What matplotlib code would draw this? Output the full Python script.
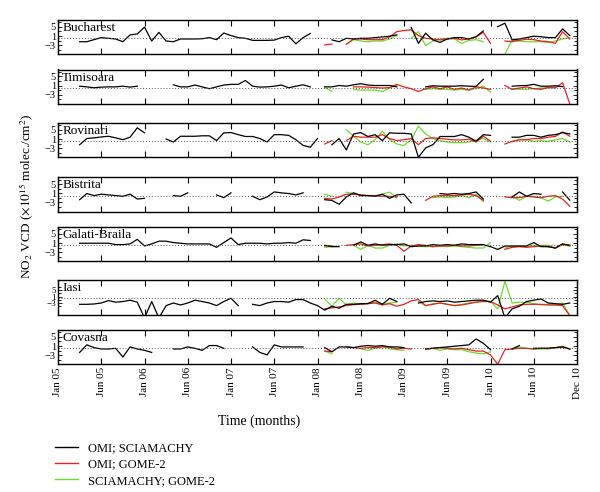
import numpy as np
import matplotlib
matplotlib.use("Agg")
import matplotlib.pyplot as plt
from matplotlib.lines import Line2D

plt.rcParams['font.family'] = ['Liberation Serif', 'DejaVu Serif']
plt.rcParams['mathtext.fontset'] = 'stix'

N = None
months = np.arange(72)
tick_labels = ['Jan 05', 'Jun 05', 'Jan 06', 'Jun 06', 'Jan 07', 'Jun 07', 'Jan 08',
               'Jun 08', 'Jan 09', 'Jun 09', 'Jan 10', 'Jun 10', 'Dec 10']
stations = ['Bucharest', 'Timisoara', 'Rovinari', 'Bistrita', 'Galati-Braila', 'Iasi', 'Covasna']
series_names = ['OMI; SCIAMACHY', 'OMI; GOME-2', 'SCIAMACHY; GOME-2']

# monthly differences, Jan 05 .. Dec 10 (None = no data)
buc_omi_scia = [N, N, N, -1.5, -1.5, -0.6, 0.3, 0, -0.3, -1.5, 1.5, 1.9,
                4.9, -1.2, 2.6, -1.2, -1.5, -0.3, -0.3, -0.3, -0.2, 0.3, -0.6, 2.3,
                1.2, 0.3, 0, -0.9, -0.9, -0.9, -0.8, 0.3, 0.9, -2.4, 0.3, 2.1,
                N, N, -0.7, -1.5, 0, -0.3, 0, 0, 0.3, 0.6, 0.9, 1.5,
                N, 4.7, -2.2, 2.2, -0.7, -1.8, -0.3, 0.3, 0.3, -0.3, 0.7, 3.2,
                N, 5.1, 6.6, -0.7, -0.3, 0.3, 0.9, 0.7, 0.3, 0.3, 4.1, 1.2]
buc_omi_gome = [N] * 36 + [N, -2.9, -2.5, N, -2.6, -0.3, -0.3, -0.6, -0.6, -0.6, 0.6, 2.9,
                           3.4, 3.7, 1.2, 0, -0.3, -0.7, -0.3, 0, -0.7, -0.3, 0.6, 2.6,
                           -2.2, N, -1.2, -1.5, -0.9, -0.4, -0.6, -1.2, -1.5, -2.2, 2.9, -0.3]
buc_scia_gome = [N] * 36 + [N, N, N, N, -2.6, -0.6, -1.2, -1.5, -1.2, -1.2, -0.3, 1.2,
                            N, 0, 2.9, -3.2, -1.2, -0.3, 0, -0.3, -2.2, -0.9, -0.6, -1.5,
                            N, N, -7, -0.7, -1.2, -1.5, -1.5, -1.5, -1.8, -1.2, -0.3, 0.3]

tim_omi_scia = [N, N, N, 0.7, 0.4, 0, 0.3, 0.4, 0.4, 0.7, 0.3, 0.7,
                N, N, N, N, 1.3, 0.4, 0.4, 1.2, 0.4, -0.4, 0.4, 1.2,
                1.5, 1.5, 3.2, 0.7, 0.3, 0.4, 0.7, 1.2, 0, 0.7, 1.3, 0.4,
                N, 0.4, 0.4, 1.0, 0.7, 1.3, 1.8, 1.2, 1.0, 1.0, 1.0, 0.4,
                N, N, N, 0.4, 0.9, 0.7, 0.7, 0.7, 0.9, 0.7, 0.6, 3.7,
                N, N, N, 0.7, 0.9, 1.0, 1.5, 0.7, 0.7, 0.9, 0.5, N]
tim_omi_gome = [N] * 36 + [N, N, N, N, N, 0.4, 0.4, 0.3, 0.1, -0.1, 0.1, 1.5,
                           0.4, -0.4, -1.6, -0.4, 0.4, -0.4, 0.4, -0.7, -0.1, -1.0, 0.4, -0.1,
                           -0.7, N, 1.0, -0.7, -0.1, 0.4, -0.4, -0.7, 0.1, 0, 2.2, -7]
tim_scia_gome = [N] * 36 + [N, 0.1, -1.5, N, N, -0.7, -1.0, -1.0, -1.0, -1.6, -0.1, 1.0,
                            N, N, N, -0.7, -0.4, -0.7, -0.7, -1.0, -0.7, -1.0, -0.4, 0.7,
                            -1.9, N, N, -0.4, -0.7, -0.7, -0.4, -0.1, 0.1, 0.4, N, N]

rov_omi_scia = [N, N, N, -1.5, 1.2, 1.5, 1.9, 2.2, 1.5, 0.7, 1.8, 5.9,
                3.7, N, N, 1.0, -0.3, 2.2, 2.2, 2.2, 2.4, 2.4, 0.3, 3.7,
                3.8, 2.9, 2.1, 2.1, 1.2, -0.3, 2.9, 2.9, 2.6, 0.7, -1.8, -2.6,
                1.2, N, -1.5, 1.2, -3.8, 3.2, 3.8, 2.1, 2.9, 0.3, 3.7, 3.5,
                3.5, 3.2, -7, -2.9, -1.5, 2.1, 2.1, 2.1, 2.9, 1.8, 0, 2.9,
                2.6, N, N, 1.8, 1.8, 2.6, 2.6, 1.8, 2.6, 2.9, 3.8, 3.2]
rov_omi_gome = [N] * 36 + [N, -1.2, 0.3, N, 0.3, 2.2, 1.8, 1.8, 1.8, 2.9, 1.2, 0.3,
                           0.7, 1.2, -1.5, 1.2, 1.5, 1.2, 0.9, 0.6, 0.6, 0.9, -0.3, 2.2,
                           0, N, -1.2, 0, 0.6, 0.7, 1.2, 1.2, 1.8, 2.1, 4.1, 2.2]
rov_scia_gome = [N] * 36 + [N, N, N, N, 5.1, 2.2, -0.3, -1.5, 0.7, 4.4, 0.7, -1.2,
                            -1.8, 0.7, 6.6, 3.2, 1.2, 0.3, -0.3, -0.6, -0.6, -0.3, 0.6, 1.2,
                            -0.3, N, N, -0.3, 0.9, 0.6, 0, 0.3, 0, 0.6, 1.2, -0.3]

bis_omi_scia = [N, N, N, -1.8, 0.9, 0, 0.6, 0.3, 0, -0.3, 0.6, -1.5,
                -1.2, N, N, N, 0, -0.3, 1.2, N, N, N, 0.3, -0.9,
                1.2, N, N, -0.3, -1.8, -0.6, 1.6, 1.2, 0.9, 0.3, 1.2, N,
                N, -1.8, -2.1, -3.8, -0.6, 1.2, 0, 0, -0.3, 0.6, -1.2, 0.3,
                0.6, -3.2, N, N, N, 0.9, 0.6, 0.9, 0.6, 0.9, 1.6, -1.5,
                N, N, N, -0.6, 1.6, -0.3, 0.9, 0.6, N, N, 1.6, -2.0]
bis_omi_gome = [N] * 36 + [N, -1.2, -1.5, -0.6, 0.6, 0.6, 0.3, 0, 0, -0.3, -0.3, -0.6,
                           N, N, N, -2.1, -0.3, 0, 0, 0, 0.3, 0.6, 0, -2.1,
                           N, N, -0.6, -0.9, -0.9, -0.3, -0.6, -0.9, -0.3, 0, -1.5, -4.7]
bis_scia_gome = [N] * 36 + [N, 0.6, -0.3, N, 1.5, 0.9, 0.3, 0, 0, 0.6, 1.5, -0.9,
                            N, N, N, N, -0.9, -0.6, -0.9, -0.6, 0, -0.9, 0.6, -2.6,
                            N, N, N, -0.3, -2.1, -0.3, -0.3, -0.9, -2.4, -0.6, -0.3, N]

gal_omi_scia = [N, N, N, 0.9, 0.9, 0.9, 0.9, 0.9, 0.3, 0.3, 0.6, 2.6,
                -0.3, 0.6, 1.8, 1.8, 1.2, 0.9, 0.6, 0.6, 0.6, 0.6, -0.9, 1.2,
                3.2, 0.3, 0.9, 0.9, 0.9, 0.6, 0.9, 0.9, 1.2, 0.9, 2.4, 2.1,
                N, 0, -0.6, -0.6, N, 0, 1.5, 0, 0.6, 0, 0.3, 0.3,
                0.6, -0.6, -0.3, -0.3, 0.3, 0, 0.3, 0, 0.6, 0.3, 0.3, 0.3,
                -0.6, -1.8, -0.3, -0.3, -0.3, -0.3, 1.2, -0.6, -0.6, -1.2, 0.6, 0]
gal_omi_gome = [N] * 36 + [N, -0.3, -0.3, N, 0, 0.3, 0.6, -0.3, 0, 0.3, 0.6, 0,
                           -2.6, -0.3, 0.3, 0, -0.6, -0.3, -0.3, 0, -0.3, -0.3, 0, 0.3,
                           N, N, -1.8, -0.9, -0.6, -0.9, -0.6, -0.3, -0.6, -1.2, 0.3, 0]
gal_scia_gome = [N] * 36 + [N, -0.9, -0.6, N, N, 0, -1.8, 0, -1.2, -1.2, 0, 0.6,
                            -0.3, 0, -0.3, -0.6, -0.6, -0.3, -0.6, -0.3, -0.6, -0.9, -1.2, -1.2,
                            1.2, N, -1.2, -0.3, -0.3, -0.6, 0, 0, 0, -1.2, 0.6, -0.6]

ias_omi_scia = [N, N, N, -3.7, -3.7, -3.5, -2.9, -1.4, -2.4, -2.0, -1.2, -2.4,
                -12, -2.0, -12, -4.5, -2.9, -4.1, -2.9, -1.2, -2.0, -2.9, -4.5, -2.0,
                0, -4.5, N, -3.7, -4.5, -2.9, -2.0, -2.0, -2.4, -0.8, -0.8, -2.9,
                -4.5, -7.3, -4.9, -6.1, -3.7, -3.7, -3.3, -3.3, -1.2, -3.7, 0, -2.0,
                N, N, -2.9, -2.0, -1.6, -2.0, -1.6, -2.4, -2.0, -1.6, -1.2, -1.2,
                -2.4, 1.6, -12, -6.5, -4.9, -2.0, -1.2, -0.4, -2.9, -3.3, -3.7, -2.9]
ias_omi_gome = [N] * 36 + [N, -6.5, -5.9, -5.3, -4.5, -3.9, -3.7, -3.3, -2.9, -4.1, -3.3, -4.9,
                           -3.7, -1.6, -0.8, -4.5, -3.7, -2.9, -3.7, -4.5, -4.1, -3.3, -2.4, -2.0,
                           -2.0, -4.1, -6.5, -5.3, -4.1, -3.7, -3.7, -3.7, -4.1, -4.1, -4.5, -10.6]
ias_scia_gome = [N] * 36 + [N, -0.4, -4.9, 0, -4.1, -2.9, -3.7, -2.9, -2.4, -3.7, -2.9, -2.4,
                            N, N, -2.0, -4.5, -3.3, -2.9, -3.7, -4.5, -3.7, -2.9, -2.4, -1.2,
                            -2.0, -6.5, 10.4, -2.9, -2.4, -2.4, -3.3, -4.1, -3.7, -4.1, -2.9, -10.6]

cov_omi_scia = [N, N, N, -1.8, 1.5, 0.3, -0.3, -0.3, 0, -3.8, 0.6, -0.3,
                -0.9, -1.8, N, N, -0.3, -0.3, 0.6, 0, -0.9, 1.2, 1.2, 0,
                N, N, N, 0.6, -1.8, -2.9, 1.5, 0.6, 0.6, 0.6, 0.6, N,
                N, 0.3, -1.5, 0.6, 0.6, 0.3, 0.9, 1.2, 0.9, 1.2, 0.6, 0.6,
                0.3, N, N, -0.3, 0, 0.3, 0.6, 0.9, 1.2, 1.5, 4.1, 2.2,
                -0.6, N, N, -0.3, 1.2, N, 0, 0, 0, 0.3, 0.6, -0.3]
cov_omi_gome = [N] * 36 + [N, -1.2, -1.5, N, 0.6, 0.3, 0, 0.3, 0.3, 0.6, 0.6, -0.3,
                           0, -0.3, N, -0.3, 0, 0.3, 0, -0.3, 0, -0.6, -1.2, -1.2,
                           -2.9, -7, -0.6, -0.3, 0, 0, -0.3, 0, 0, 0.3, 0.6, -0.3]
cov_scia_gome = [N] * 36 + [N, -1.2, -2.4, N, N, N, -0.3, -0.9, 0, 0.9, -0.3, -0.6,
                            -0.9, N, N, -0.3, 0, -0.9, -0.3, -0.6, -0.6, -1.5, -2.1, -2.4,
                            -1.5, N, N, -0.3, 0.6, 0, -0.3, -0.3, -0.3, 0.3, 0.9, -0.3]

panel_data = [
    (buc_omi_scia, buc_omi_gome, buc_scia_gome),
    (tim_omi_scia, tim_omi_gome, tim_scia_gome),
    (rov_omi_scia, rov_omi_gome, rov_scia_gome),
    (bis_omi_scia, bis_omi_gome, bis_scia_gome),
    (gal_omi_scia, gal_omi_gome, gal_scia_gome),
    (ias_omi_scia, ias_omi_gome, ias_scia_gome),
    (cov_omi_scia, cov_omi_gome, cov_scia_gome),
]
colors = ['black', '#e82020', '#6fdc2a']

# panel tops in pixels (figure is 600 x 492)
W, H = 600.0, 492.0
tops = [20, 69.5, 123, 177.3, 227, 280.3, 330]
ph = 34.3
left, right = 58, 577

fig = plt.figure(figsize=(6, 4.92), dpi=100)

for i, (name, data) in enumerate(zip(stations, panel_data)):
    ax = fig.add_axes([left / W, 1 - (tops[i] + ph) / H, (right - left) / W, ph / H])
    # green first so black sits on top, red in the middle
    for k in [2, 1, 0]:
        y = np.array(data[k], dtype=float)
        ax.plot(months, y, color=colors[k], lw=0.9)
    ax.axhline(0, color='#555555', lw=0.7, ls=(0, (1, 2)))
    ax.set_xlim(0, 72)
    ysize = 7.5
    if name == 'Iasi':
        ax.set_ylim(-10, 11)
        ysize = 6.5
    else:
        ax.set_ylim(-7, 8)
    ax.set_yticks([5, 1, -3])
    ax.set_yticks([7, 3, -1, -5], minor=True)
    ax.set_xticks(np.arange(0, 73, 6))
    ax.tick_params(axis='both', which='both', direction='in', top=True, right=True, pad=2)
    ax.tick_params(axis='x', length=4, width=0.8, labelsize=8)
    ax.tick_params(axis='y', which='major', length=3, width=0.6, labelsize=ysize, pad=1.5)
    ax.tick_params(axis='y', which='minor', length=2.5, width=0.6)
    ax.yaxis.set_tick_params(labelright=False)
    for sp in ax.spines.values():
        sp.set_linewidth(1.0)
    ax.text(0.008, 0.94, name, transform=ax.transAxes, ha='left', va='top', fontsize=9.5)
    if i < len(stations) - 1:
        ax.set_xticklabels([])
    else:
        ax.set_xticklabels(tick_labels, rotation=90)

fig.text(27 / W, 1 - 196 / H, r'NO$_2$ VCD ($\times10^{15}$ molec./cm$^2$)',
         rotation=90, ha='center', va='center', fontsize=9.5)
fig.text(259 / W, 1 - 421 / H, 'Time (months)', ha='center', va='center', fontsize=10)

handles = [Line2D([], [], color=c, lw=1.0) for c in colors]
fig.legend(handles, series_names, loc='upper left', bbox_to_anchor=(50 / W, 1 - 437 / H),
           frameon=False, fontsize=9, handlelength=1.8, handletextpad=0.8,
           labelspacing=0.35, borderaxespad=0)

fig.savefig('out.png', dpi=100)
